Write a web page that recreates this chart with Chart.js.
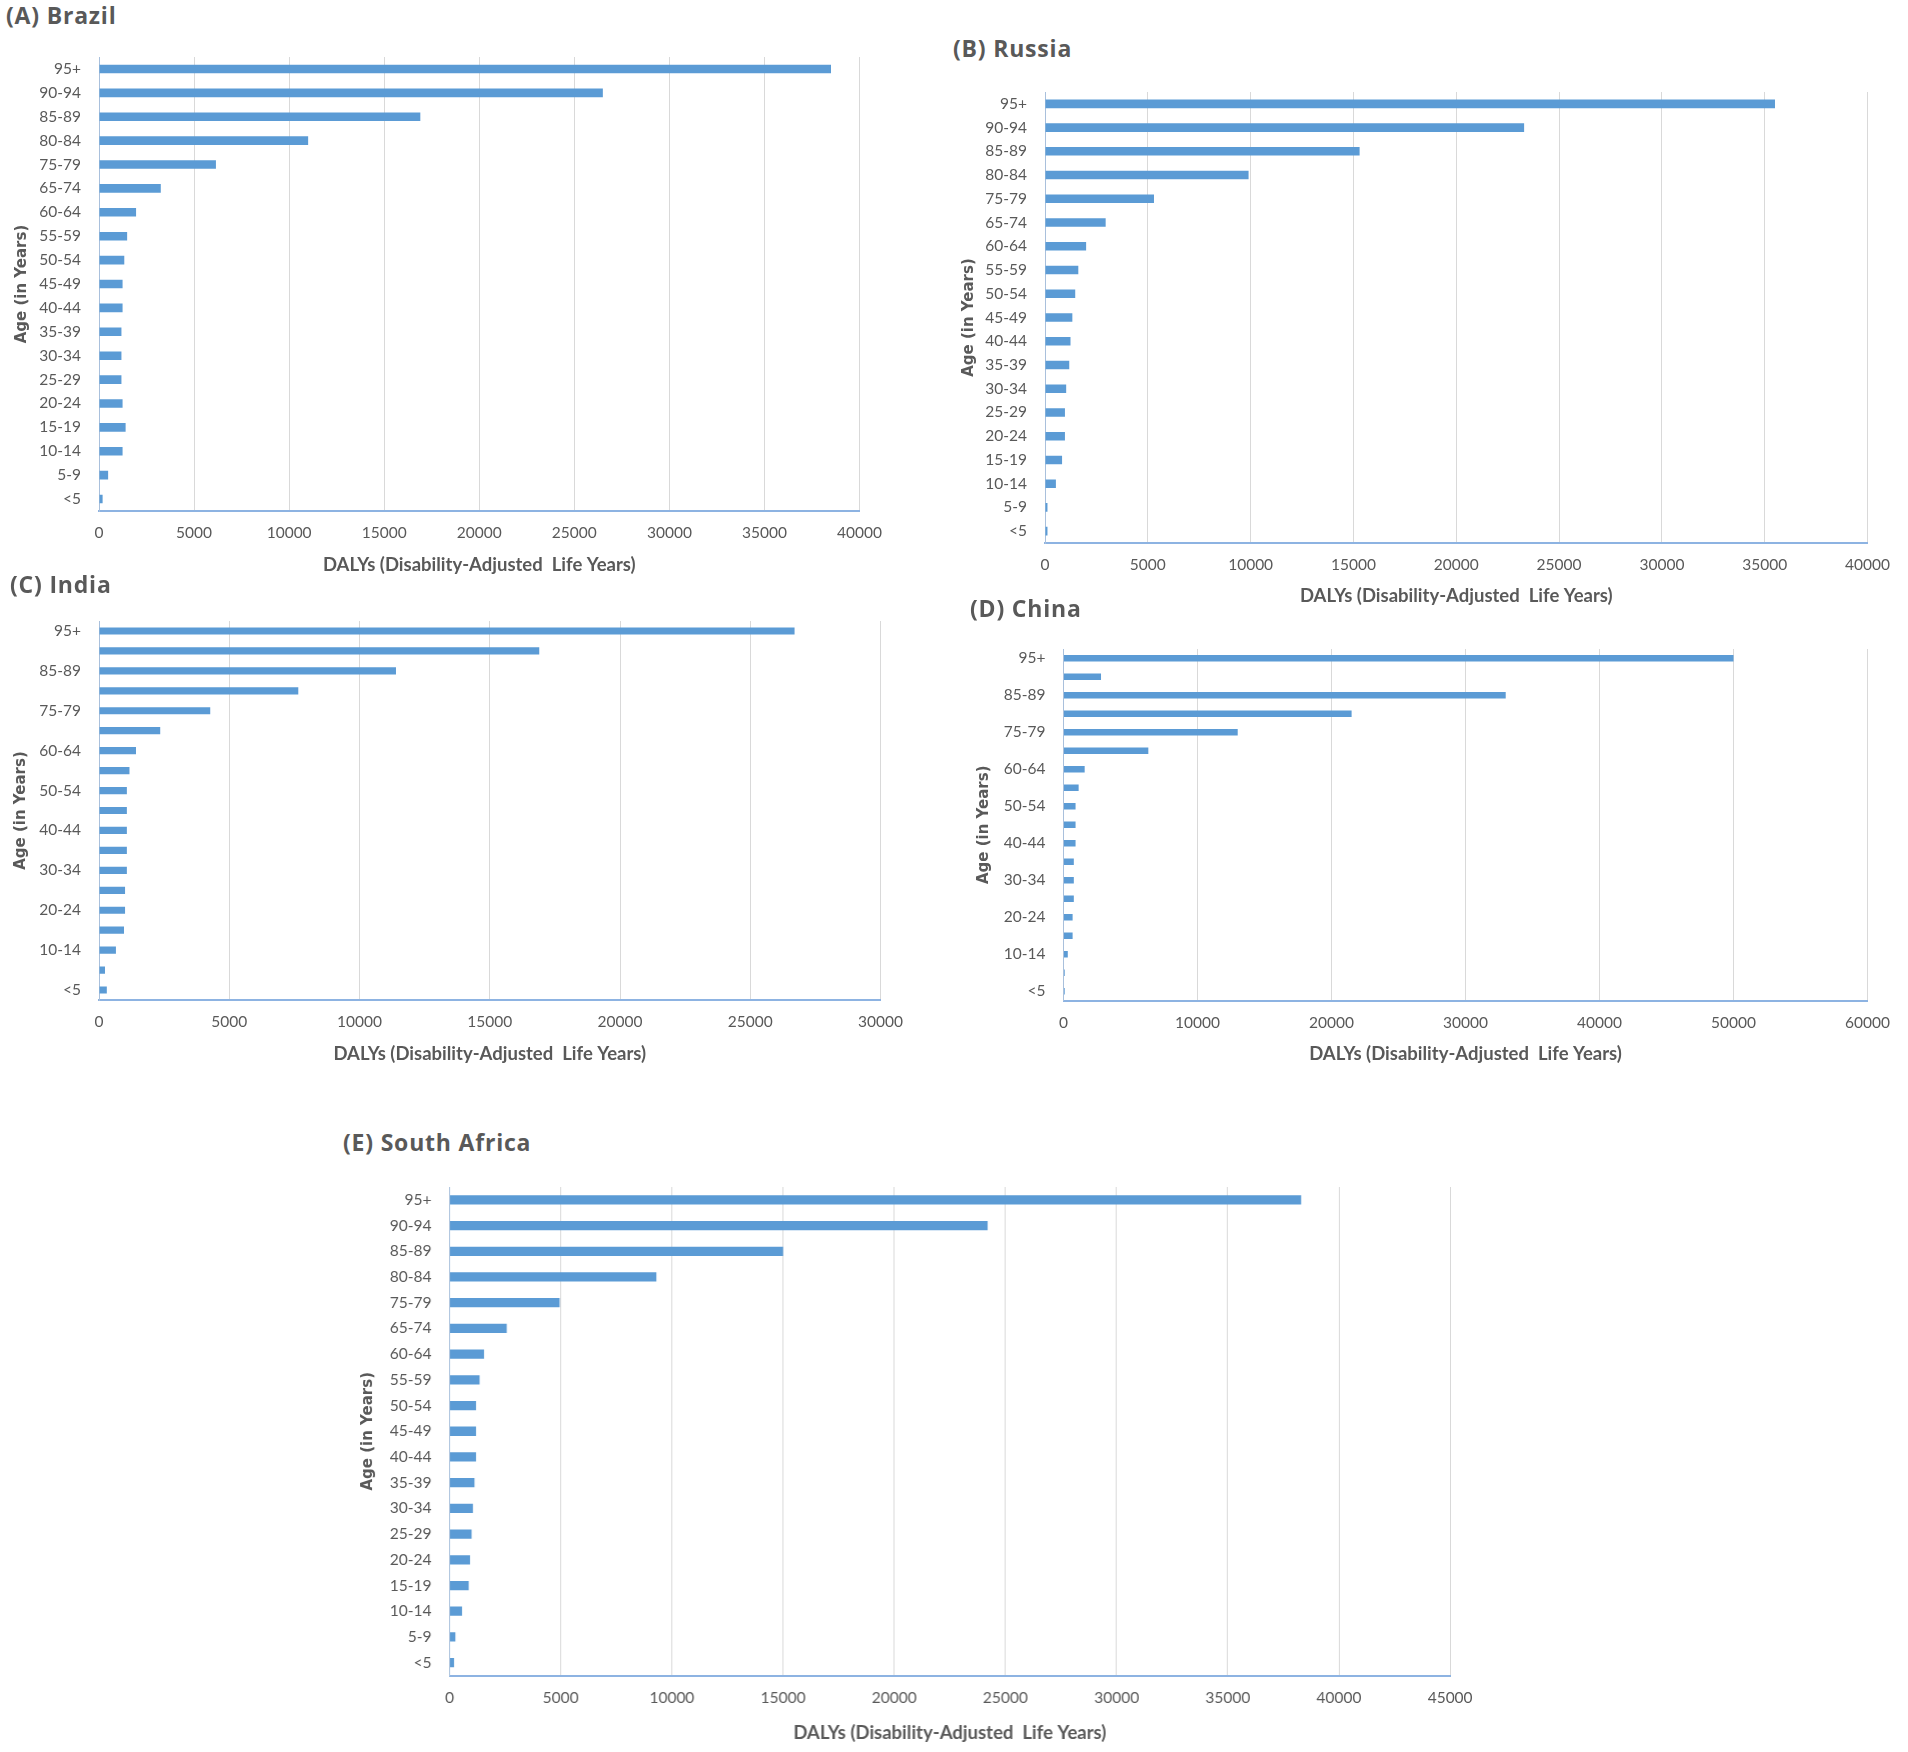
<!DOCTYPE html>
<html>
<head>
<meta charset="utf-8">
<script src="https://cdn.jsdelivr.net/npm/chart.js@4.4.1/dist/chart.umd.min.js"></script>
<style>
  body { margin: 0; background: #fff; width: 1908px; height: 1752px; position: relative; overflow: hidden; }
  .panel { position: absolute; }
  .ttl { position: absolute; font-family: "Open Sans", sans-serif; font-weight: 700; font-size: 23px;
         color: #595959; letter-spacing: 0.8px; white-space: nowrap; line-height: 1; }
</style>
</head>
<body>
<script>
// age groups, top to bottom as in the figure
const ageGroups = ['95+', '90-94', '85-89', '80-84', '75-79', '65-74', '60-64', '55-59', '50-54',
  '45-49', '40-44', '35-39', '30-34', '25-29', '20-24', '15-19', '10-14', '5-9', '<5'];

// DALYs
const brazilDalys = [38500, 26500, 16900, 11000, 6150, 3250, 1950, 1480, 1330, 1240, 1240, 1180, 1180, 1180, 1240, 1400, 1240, 480, 190];
const russiaDalys = [35500, 23300, 15300, 9900, 5300, 2950, 2000, 1620, 1470, 1330, 1240, 1180, 1030, 970, 970, 830, 530, 120, 120];
const indiaDalys = [26700, 16900, 11400, 7650, 4270, 2350, 1420, 1170, 1070, 1070, 1070, 1070, 1070, 1000, 1000, 960, 650, 230, 300];
const chinaDalys = [50000, 2800, 33000, 21500, 13000, 6330, 1580, 1130, 900, 900, 900, 770, 770, 770, 680, 680, 320, 90, 90];
const southAfricaDalys = [38300, 24200, 15000, 9300, 4950, 2570, 1550, 1350, 1190, 1190, 1190, 1120, 1050, 990, 920, 860, 560, 260, 200];

// x axis: [max, step]
const brazilAxis = [40000, 5000];
const russiaAxis = [40000, 5000];
const indiaAxis = [30000, 5000];
const chinaAxis = [60000, 10000];
const southAfricaAxis = [45000, 5000];

const xTitle = 'DALYs (Disability-Adjusted  Life Years)';
const yTitle = 'Age (in Years)';

// plot boxes in page pixels
const panels = [
  { title: '(A) Brazil', tx: 6, ty: 16, L: 99, T: 57, R: 861, B: 511, ytx: 22, xty: 565, data: brazilDalys, axis: brazilAxis, skip: false },
  { title: '(B) Russia', tx: 953, ty: 49, L: 1045, T: 92, R: 1869, B: 543, ytx: 969, xty: 596, data: russiaDalys, axis: russiaAxis, skip: false },
  { title: '(C) India', tx: 10, ty: 585, L: 99, T: 621, R: 882, B: 1000, ytx: 21, xty: 1054, data: indiaDalys, axis: indiaAxis, skip: true },
  { title: '(D) China', tx: 970, ty: 609, L: 1063.5, T: 648.5, R: 1869, B: 1000, ytx: 984, xty: 1054, data: chinaDalys, axis: chinaAxis, skip: true },
  { title: '(E) South Africa', tx: 343, ty: 1143, L: 449.5, T: 1186.5, R: 1450.6, B: 1675, ytx: 368, xty: 1732.6, data: southAfricaDalys, axis: southAfricaAxis, skip: false }
];

const tickFont = { family: 'Lato', size: 15.5 };
const xTitleFont = { family: 'Lato', size: 18.5, weight: 'bold', lineHeight: 1.2 };
const yTitleFont = { family: 'DejaVu Sans', size: 15, weight: 'bold', lineHeight: 1.2 };
const grey = '#595959';
const padTop = 2, padRight = 34;

panels.forEach(p => {
  const t = document.createElement('div');
  t.className = 'ttl';
  t.textContent = p.title;
  t.style.left = p.tx + 'px';
  t.style.top = (p.ty - 12) + 'px';
  document.body.appendChild(t);

  const yw = p.L - (p.ytx - yTitleFont.size * 1.2 / 2);
  const xh = (p.xty - p.B) + xTitleFont.size * 1.2 / 2;

  const box = document.createElement('div');
  box.className = 'panel';
  box.style.left = (p.L - yw) + 'px';
  box.style.top = (p.T - padTop) + 'px';
  box.style.width = (p.R - p.L + yw + padRight) + 'px';
  box.style.height = (p.B - p.T + padTop + xh) + 'px';
  const cv = document.createElement('canvas');
  box.appendChild(cv);
  document.body.appendChild(box);

  new Chart(cv.getContext('2d'), {
    type: 'bar',
    data: {
      labels: ageGroups,
      datasets: [{
        data: p.data,
        backgroundColor: '#5b9bd5',
        barPercentage: 0.36,
        categoryPercentage: 1
      }]
    },
    options: {
      indexAxis: 'y',
      responsive: true,
      maintainAspectRatio: false,
      animation: false,
      layout: { padding: { top: padTop, right: padRight, left: 0, bottom: 0 } },
      plugins: { legend: { display: false }, tooltip: { enabled: false } },
      scales: {
        x: {
          min: 0,
          max: p.axis[0],
          afterFit: s => { s.height = xh; },
          ticks: {
            stepSize: p.axis[1],
            color: grey,
            font: tickFont,
            padding: 13,
            maxRotation: 0,
            autoSkip: false,
            callback: v => String(v)
          },
          grid: { color: '#d9d9d9', lineWidth: 1, drawTicks: false },
          border: { color: '#8db3e2', width: 2 },
          title: { display: true, text: xTitle, color: grey, font: xTitleFont, padding: 0 }
        },
        y: {
          afterFit: s => { s.width = yw; s.paddingTop = 0; s.paddingBottom = 0; },
          ticks: {
            color: grey,
            font: tickFont,
            padding: 18,
            autoSkip: false,
            callback: (v, i) => (p.skip && i % 2 === 1) ? '' : ageGroups[i]
          },
          grid: { display: false, drawTicks: false },
          border: { color: '#a9c0dc', width: 1 },
          title: { display: true, text: yTitle, color: grey, font: yTitleFont, padding: 0 }
        }
      }
    }
  });
});
</script>
</body>
</html>
